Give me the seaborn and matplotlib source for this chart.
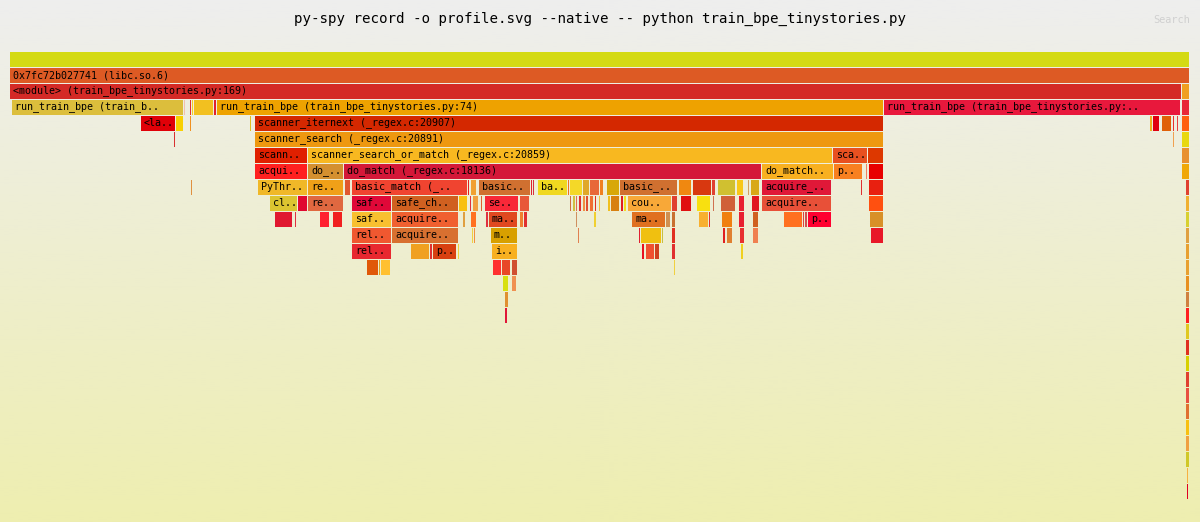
import numpy as np
import pandas as pd
import matplotlib
matplotlib.use("Agg")
import matplotlib.pyplot as plt
import seaborn as sns
from matplotlib.colors import LinearSegmentedColormap

# -----------------------------
#  Profile data (samples, one list per stack depth)
#  each frame: (start, width, label)
# -----------------------------
TITLE = "py-spy record -o profile.svg --native -- python train_bpe_tinystories.py"
TOTAL = 1180

d00 = [(0, 1180, "")]
c00 = ["#d4da14"]

d01 = [(0, 1180, "0x7fc72b027741 (libc.so.6)")]
c01 = ["#dd5a24"]

d02 = [(0, 1172, "<module> (train_bpe_tinystories.py:169)"), (1172, 8, "")]
c02 = ["#d42a26", "#f0a020"]

d03 = [(2, 172, "run_train_bpe (train_b.."), (174, 2, ""), (180, 2, ""), (182, 2, ""),
       (184, 20, ""), (204, 3, ""),
       (207, 667, "run_train_bpe (train_bpe_tinystories.py:74)"),
       (874, 297, "run_train_bpe (train_bpe_tinystories.py:.."), (1171, 1, ""), (1172, 8, "")]
c03 = ["#dcbe3c", "#f0c0b0", "#e03030", "#f8d020", "#f2c020", "#e02030",
       "#eea200", "#e8183c", "#f0a0a0", "#e82838"]

d04 = [(131, 35, "<la.."), (166, 8, ""), (180, 2, ""), (240, 2, ""),
       (245, 629, "scanner_iternext (_regex.c:20907)"),
       (1140, 3, ""), (1143, 7, ""), (1152, 10, ""), (1163, 2, ""), (1167, 2, ""), (1172, 8, "")]
c04 = ["#e00008", "#f8d000", "#f09020", "#e0c020", "#d42800",
       "#f0b020", "#e00010", "#e06008", "#e83030", "#e84040", "#ff6010"]

d05 = [(164, 2, ""), (181, 1, ""), (245, 629, "scanner_search (_regex.c:20891)"),
       (1163, 2, ""), (1172, 8, "")]
c05 = ["#d83030", "#d0a050", "#ee9810", "#f0a050", "#e8d810"]

d06 = [(181, 1, ""), (245, 53, "scann.."), (298, 525, "scanner_search_or_match (_regex.c:20859)"),
       (823, 35, "sca.."), (858, 16, ""), (1164, 1, ""), (1172, 8, "")]
c06 = ["#e04040", "#e02000", "#f8b820", "#e85020", "#dd3800", "#e8d020", "#e89030"]

d07 = [(181, 1, ""), (245, 53, "acqui.."), (298, 36, "do_.."),
       (334, 418, "do_match (_regex.c:18136)"), (752, 72, "do_match.."), (824, 29, "p.."),
       (856, 2, ""), (859, 15, ""), (1172, 8, "")]
c07 = ["#e04040", "#ff2020", "#d49030", "#d41838", "#f8b020", "#f88020",
       "#f08060", "#e80000", "#f0a808"]

d08 = [(181, 2, ""), (247, 1, ""), (248, 50, "PyThr.."), (298, 36, "re.."), (335, 6, ""),
       (342, 116, "basic_match (_.."), (458, 2, ""), (461, 6, ""), (469, 52, "basic.."),
       (521, 2, ""), (523, 2, ""), (528, 30, "ba.."), (558, 2, ""), (560, 13, ""),
       (573, 7, ""), (580, 10, ""), (590, 4, ""), (597, 13, ""), (610, 58, "basic_.."),
       (669, 13, ""), (683, 19, ""), (702, 4, ""), (708, 18, ""), (727, 7, ""),
       (738, 2, ""), (741, 9, ""), (752, 70, "acquire_.."), (851, 2, ""), (859, 15, ""),
       (1175, 1, ""), (1176, 4, "")]
c08 = ["#e09040", "#e03030", "#f0b828", "#f0a018", "#e05830",
       "#f04430", "#e02020", "#f0a030", "#d07030",
       "#e02030", "#d83040", "#f0d820", "#f07020", "#f4d828",
       "#e0a828", "#e86838", "#f08020", "#d8a808", "#d07030",
       "#f08810", "#d83810", "#e04030", "#d0c030", "#f8c818",
       "#d0a060", "#d8a818", "#e01838", "#e03030", "#e82010",
       "#d09040", "#e04030"]

d09 = [(260, 28, "cl.."), (288, 10, ""), (298, 36, "re.."), (342, 40, "saf.."),
       (382, 67, "safe_ch.."), (449, 9, ""), (460, 2, ""), (463, 6, ""), (471, 2, ""),
       (475, 34, "se.."), (510, 10, ""), (560, 2, ""), (563, 3, ""), (566, 2, ""),
       (569, 3, ""), (573, 3, ""), (576, 3, ""), (580, 4, ""), (585, 2, ""), (589, 2, ""),
       (598, 3, ""), (601, 9, ""), (611, 3, ""), (614, 3, ""), (618, 44, "cou.."),
       (662, 6, ""), (671, 11, ""), (687, 14, ""), (703, 2, ""), (711, 15, ""),
       (729, 6, ""), (742, 8, ""), (752, 70, "acquire.."), (859, 15, ""),
       (1175, 1, ""), (1176, 4, "")]
c09 = ["#dcc430", "#e00830", "#e06840", "#e00838",
       "#d06020", "#f8c010", "#e03040", "#f0a040", "#e06030",
       "#f82838", "#e85838", "#d07040", "#d0c040", "#e07050",
       "#e03030", "#f09040", "#e05030", "#f07030", "#e03020", "#f0c040",
       "#f0c020", "#d88010", "#e02020", "#f0e020", "#f8a838",
       "#e04030", "#e01010", "#f8e010", "#d07050", "#d06038",
       "#e82030", "#e01820", "#e85038", "#ff5010",
       "#e08030", "#f0b030"]

d10 = [(265, 18, ""), (285, 2, ""), (310, 10, ""), (323, 10, ""), (342, 40, "saf.."),
       (382, 67, "acquire.."), (453, 3, ""), (461, 6, ""), (476, 3, ""), (479, 29, "ma.."),
       (510, 4, ""), (514, 4, ""), (566, 2, ""), (584, 3, ""), (622, 34, "ma.."),
       (656, 5, ""), (662, 4, ""), (689, 10, ""), (699, 2, ""), (712, 11, ""),
       (729, 6, ""), (743, 6, ""), (774, 19, ""), (793, 2, ""), (795, 3, ""),
       (798, 24, "p.."), (860, 14, ""), (1175, 1, ""), (1176, 4, "")]
c10 = ["#e01830", "#e03040", "#ff2030", "#f02020", "#f8c030",
       "#f06030", "#e0a040", "#ff7020", "#e03040", "#e04820",
       "#f08030", "#e03030", "#d09060", "#f0d030", "#e07020",
       "#d09050", "#c87030", "#f8b030", "#e03030", "#f08010",
       "#e82030", "#d06020", "#ff7020", "#e04040", "#d05050",
       "#ff0030", "#d89028", "#e8c040", "#d8d030"]

d11 = [(342, 40, "rel.."), (382, 67, "acquire.."), (462, 2, ""), (464, 2, ""),
       (481, 27, "m.."), (568, 2, ""), (629, 2, ""), (631, 21, ""), (652, 2, ""),
       (662, 4, ""), (713, 3, ""), (717, 6, ""), (730, 5, ""), (743, 6, ""),
       (861, 13, ""), (1175, 1, ""), (1176, 4, "")]
c11 = ["#f05830", "#d87030", "#f0d040", "#f09040",
       "#d8a000", "#e08050", "#e02030", "#f0c010", "#c8c040",
       "#e03020", "#e02020", "#e08030", "#e83030", "#f08050",
       "#e81828", "#d09040", "#e0a040"]

d12 = [(342, 40, "rel.."), (401, 19, ""), (420, 3, ""), (423, 24, "p.."), (448, 2, ""),
       (482, 26, "i.."), (632, 3, ""), (636, 9, ""), (645, 5, ""), (662, 4, ""),
       (731, 3, ""), (1175, 1, ""), (1176, 4, "")]
c12 = ["#e82830", "#f0a020", "#e03030", "#d84010", "#f0d040",
       "#f8b020", "#e81020", "#f05030", "#d04020", "#e03030",
       "#f0d020", "#e04040", "#e8a030"]

d13 = [(357, 12, ""), (369, 2, ""), (371, 10, ""), (483, 9, ""), (492, 9, ""),
       (502, 6, ""), (664, 2, ""), (1175, 1, ""), (1176, 4, "")]
c13 = ["#e05808", "#e0a020", "#ffc030", "#ff3030", "#e84828",
       "#d05030", "#f0d040", "#e03030", "#e8a030"]

d14 = [(493, 6, ""), (502, 5, ""), (664, 1, ""), (1175, 1, ""), (1176, 4, "")]
c14 = ["#d8e010", "#f09050", "#f0c040", "#d01010", "#e89020"]

d15 = [(495, 4, ""), (1175, 1, ""), (1176, 4, "")]
c15 = ["#e09030", "#c8a040", "#d08040"]

d16 = [(495, 3, ""), (1175, 1, ""), (1176, 4, "")]
c16 = ["#e01838", "#f0c040", "#ff2020"]

d17 = [(1175, 1, ""), (1176, 4, "")]
c17 = ["#e03030", "#e0c820"]
d18 = [(1175, 1, ""), (1176, 4, "")]
c18 = ["#c04030", "#e03020"]
d19 = [(1175, 1, ""), (1176, 4, "")]
c19 = ["#e08030", "#d8d000"]
d20 = [(1175, 1, ""), (1176, 4, "")]
c20 = ["#e0c020", "#e04030"]
d21 = [(1175, 1, ""), (1176, 4, "")]
c21 = ["#e02030", "#e85040"]
d22 = [(1176, 4, "")]
c22 = ["#e07030"]
d23 = [(1176, 4, "")]
c23 = ["#f8c010"]
d24 = [(1176, 4, "")]
c24 = ["#f0a040"]
d25 = [(1176, 4, "")]
c25 = ["#d0c828"]
d26 = [(1177, 2, "")]
c26 = ["#f8b040"]
d27 = [(1177, 2, "")]
c27 = ["#e00020"]

STACKS = [d00, d01, d02, d03, d04, d05, d06, d07, d08, d09, d10, d11, d12, d13,
          d14, d15, d16, d17, d18, d19, d20, d21, d22, d23, d24, d25, d26, d27]
COLOURS = [c00, c01, c02, c03, c04, c05, c06, c07, c08, c09, c10, c11, c12, c13,
           c14, c15, c16, c17, c18, c19, c20, c21, c22, c23, c24, c25, c26, c27]


def build_frame_table() -> pd.DataFrame:
    rows = []
    for depth, (frames, cols) in enumerate(zip(STACKS, COLOURS)):
        for (start, width, label), col in zip(frames, cols):
            rows.append({"depth": depth, "start": start, "width": width,
                         "label": label, "colour": col})
    return pd.DataFrame(rows)


def main() -> None:
    sns.set_theme(style="white")
    plt.rcParams["font.family"] = ["DejaVu Sans Mono", "DejaVu Sans"]

    df = build_frame_table()

    W, H = 1200, 522
    fig = plt.figure(figsize=(W / 100, H / 100), dpi=100)

    # background gradient, like the svg flamegraph
    bg = fig.add_axes([0, 0, 1, 1], zorder=0)
    cmap = LinearSegmentedColormap.from_list("fg", ["#eeeeee", "#eeeeb0"])
    bg.imshow(np.linspace(0, 1, 256).reshape(-1, 1), aspect="auto", cmap=cmap,
              extent=[0, 1, 0, 1], origin="upper")
    bg.set_axis_off()

    # flame area: 1 sample per pixel, 16 px per row
    row_px = 16
    top_px = 52
    n_rows = (H - top_px) / row_px
    ax = fig.add_axes([10 / W, 0, TOTAL / W, (H - top_px) / H], zorder=1)
    ax.set_facecolor("none")
    ax.set_xlim(0, TOTAL)
    ax.set_ylim(n_rows, 0)
    ax.set_axis_off()

    bar_h = 15 / row_px
    gap = 0.6
    ax.barh(df["depth"] + bar_h / 2, np.maximum(df["width"] - gap, 0.4),
            left=df["start"], height=bar_h, color=df["colour"], linewidth=0)

    for _, r in df[df["label"] != ""].iterrows():
        ax.text(r["start"] + 3, r["depth"] + bar_h / 2 - 0.03, r["label"],
                ha="left", va="center", fontsize=7.2, color="#000000",
                family="DejaVu Sans Mono")

    fig.text(0.5, 1 - 18.5 / H, TITLE, ha="center", va="center", fontsize=10.15,
             color="#000000", family="DejaVu Sans Mono")
    fig.text(1190 / W, 1 - 20 / H, "Search", ha="right", va="center",
             fontsize=7.4, color="#d0d0d0", family="DejaVu Sans Mono")

    fig.savefig("out.png", dpi=100)


if __name__ == "__main__":
    main()
